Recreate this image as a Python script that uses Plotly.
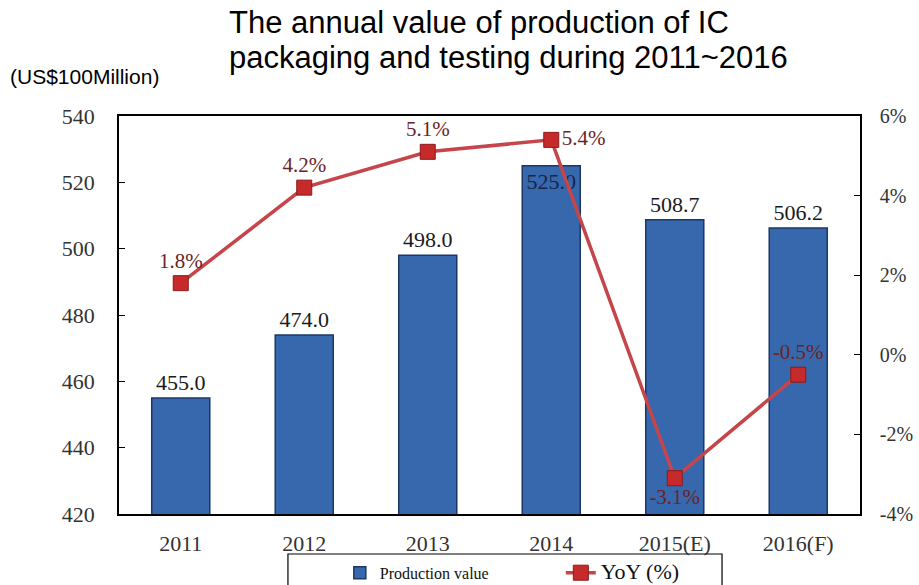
import plotly.graph_objects as go

years = ["2011", "2012", "2013", "2014", "2015(E)", "2016(F)"]
production_value = [455.0, 474.0, 498.0, 525.0, 508.7, 506.2]
yoy_pct = [1.8, 4.2, 5.1, 5.4, -3.1, -0.5]
left_ticks = [420, 440, 460, 480, 500, 520, 540]
right_ticks = [-4, -2, 0, 2, 4, 6]

title_line1 = "The annual value of production of IC"
title_line2 = "packaging and testing during 2011~2016"
unit_label = "(US$100Million)"

SERIF = "Liberation Serif"
SANS = "Liberation Sans"

bar_textpos = ["outside", "outside", "outside", "inside", "outside", "outside"]
yoy_textpos = ["top center", "top center", "top center", "middle right", "bottom center", "top center"]

fig = go.Figure()

fig.add_trace(go.Bar(
    x=years, y=production_value, name="Production value",
    marker=dict(color="#3768ae", line=dict(color="#1c3763", width=1.5)),
    text=[f"{v:.1f}" for v in production_value],
    textposition=bar_textpos,
    insidetextanchor="end",
    textangle=0,
    constraintext="none",
    cliponaxis=False,
    textfont=dict(family=SERIF, size=22, color="#1a1a1a"),
    insidetextfont=dict(family=SERIF, size=22, color="#14264a"),
    outsidetextfont=dict(family=SERIF, size=22, color="#1a1a1a"),
))

fig.add_trace(go.Scatter(
    x=years, y=yoy_pct, name="<span style='font-size:22px'>YoY (%)</span>",
    yaxis="y2", mode="lines+markers+text",
    line=dict(color="#c6454a", width=3.5),
    marker=dict(symbol="square", size=15, color="#c62a2a", line=dict(color="#8b1a1a", width=1)),
    text=[f"{v}%" for v in yoy_pct],
    textposition=yoy_textpos,
    textfont=dict(family=SERIF, size=21, color="#6b2323"),
    cliponaxis=False,
))

fig.update_layout(
    width=919, height=585,
    margin=dict(l=119, r=59, t=116, b=71, autoexpand=False),
    paper_bgcolor="white", plot_bgcolor="white",
    bargap=0.53,
    showlegend=True,
    legend=dict(orientation="h", x=0.298, y=-0.105, xanchor="left", yanchor="top",
                font=dict(family=SERIF, size=16, color="#111"),
                bgcolor="rgba(0,0,0,0)", borderwidth=0, entrywidth=176,
                traceorder="normal"),
    xaxis=dict(type="category", showline=True, linecolor="black", linewidth=1.5,
               mirror=True, ticks="", showgrid=False, automargin=False,
               tickfont=dict(family=SERIF, size=22, color="#333"),
               ticklabelstandoff=9),
    yaxis=dict(range=[420, 540], tickvals=left_ticks, showline=True, linecolor="black",
               linewidth=1.5, ticks="inside", ticklen=6, tickcolor="black", showgrid=False,
               zeroline=False, automargin=False,
               tickfont=dict(family=SERIF, size=22, color="#333"),
               ticklabelstandoff=18),
    yaxis2=dict(range=[-4, 6], tickvals=right_ticks, ticktext=[f"{t}%" for t in right_ticks],
                overlaying="y", side="right", showline=True, linecolor="black",
                linewidth=1.5, ticks="inside", ticklen=6, tickcolor="black",
                showgrid=False, zeroline=False, automargin=False,
                tickfont=dict(family=SERIF, size=20, color="#333"),
                ticklabelstandoff=14),
)

fig.add_annotation(text=title_line1, xref="paper", yref="paper", x=0.1457, y=1.236,
                   xanchor="left", yanchor="middle", showarrow=False,
                   font=dict(family=SANS, size=31, color="black"))
fig.add_annotation(text=title_line2, xref="paper", yref="paper", x=0.1457, y=1.148,
                   xanchor="left", yanchor="middle", showarrow=False,
                   font=dict(family=SANS, size=31, color="black"))
fig.add_annotation(text=unit_label, xref="paper", yref="paper", x=-0.1498, y=1.098,
                   xanchor="left", yanchor="middle", showarrow=False,
                   font=dict(family=SANS, size=21, color="black"))

# legend frame
fig.add_shape(type="rect", xref="paper", yref="paper", x0=0.228, x1=0.8138,
              y0=-0.30, y1=-0.1005, line=dict(color="black", width=1.2),
              fillcolor="rgba(0,0,0,0)", layer="above")

fig.write_html("out.html")
